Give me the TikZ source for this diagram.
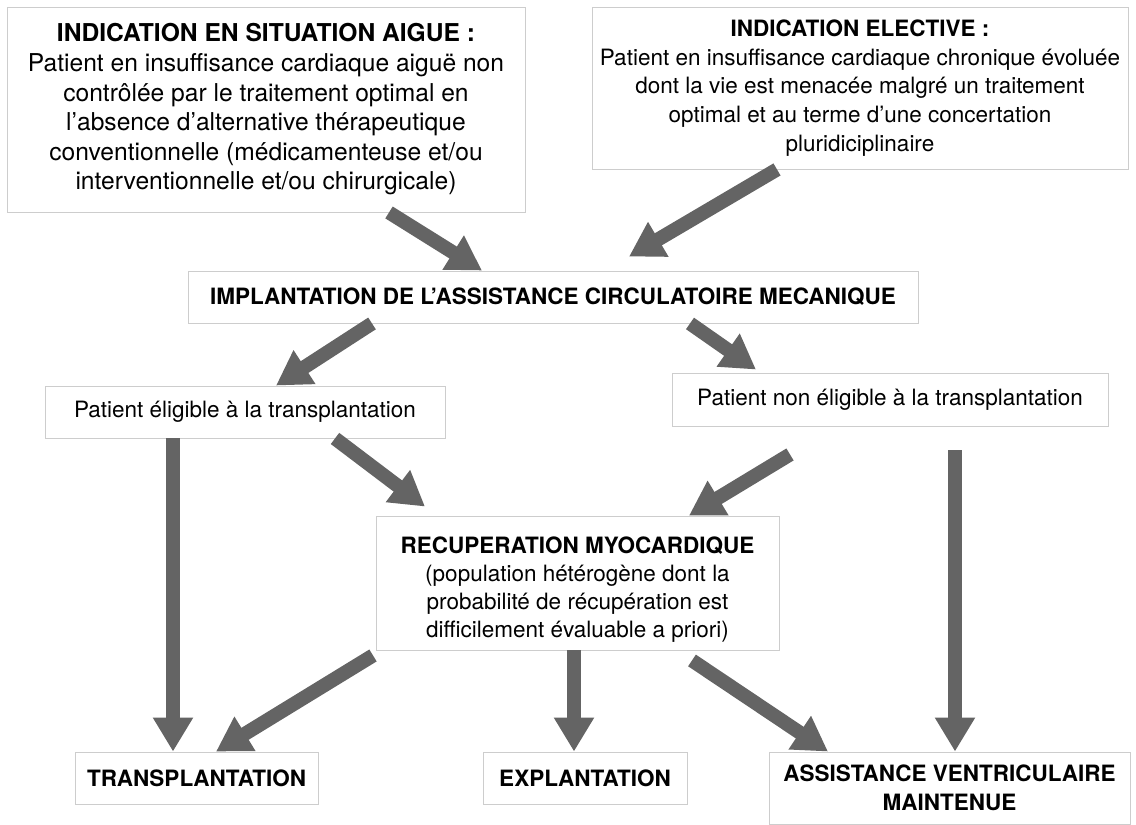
\documentclass[tikz,border=0pt]{standalone}
\usepackage{fontspec}
\setmainfont{TeX Gyre Heros}
\usetikzlibrary{arrows.meta}
\definecolor{boxgray}{RGB}{205,205,205}
\definecolor{arrowgray}{RGB}{100,100,100}

\begin{document}
\begin{tikzpicture}[x=1pt, y=-1pt,
	box/.style={draw=boxgray, line width=0.9pt, fill=white, align=center, inner sep=0pt,
		font=\fontsize{22.5}{28.8}\selectfont},
	bigbox/.style={box, font=\fontsize{24.6}{29.6}\selectfont},
	bigarrow/.style={draw=arrowgray, line width=14pt, -{Triangle[width=38pt,length=34pt]}}]
	
	\useasboundingbox (0,0) rectangle (1136,825);
	
	\node[bigbox, minimum width=518pt, minimum height=205pt] (acute) at (266,109.5)
		{\textbf{INDICATION EN SITUATION AIGUE :}\\
		Patient en insuffisance cardiaque aiguë non\\
		contrôlée par le traitement optimal en\\
		l’absence d’alternative thérapeutique\\
		conventionnelle (médicamenteuse et/ou\\
		interventionnelle et/ou chirurgicale)};
	\node[box, minimum width=536pt, minimum height=162pt] (elective) at (860,88)
		{\textbf{INDICATION ELECTIVE :}\\
		Patient en insuffisance cardiaque chronique évoluée\\
		dont la vie est menacée malgré un traitement\\
		optimal et au terme d’une concertation\\
		pluridiciplinaire};
	\node[box, minimum width=730pt, minimum height=52pt] (impl) at (553,297)
		{\textbf{IMPLANTATION DE L’ASSISTANCE CIRCULATOIRE MECANIQUE}};
	\node[box, minimum width=400pt, minimum height=52pt] (elig) at (245,412)
		{Patient éligible à la transplantation};
	\node[box, minimum width=436pt, minimum height=53pt] (nonelig) at (890,399.5)
		{Patient non éligible à la transplantation};
	\node[box, minimum width=403pt, minimum height=134pt, font=\fontsize{22.5}{28}\selectfont] (recup) at (577.5,583)
		{\rule{0pt}{30pt}\textbf{RECUPERATION MYOCARDIQUE}\\
		(population hétérogène dont la\\
		probabilité de récupération est\\
		difficilement évaluable a priori)};
	\node[box, minimum width=243pt, minimum height=52pt] (trans) at (196.5,778)
		{\textbf{TRANSPLANTATION}};
	\node[box, minimum width=204pt, minimum height=52pt] (expl) at (585,778)
		{\textbf{EXPLANTATION}};
	\node[box, minimum width=361pt, minimum height=72pt] (assist) at (949.5,788)
		{\textbf{ASSISTANCE VENTRICULAIRE}\\ \textbf{MAINTENUE}};
	
	% indications -> implantation
	\draw[bigarrow] ([xshift=123pt]acute.south) -- ([xshift=-71pt]impl.north);
	\draw[bigarrow] ([xshift=-83pt]elective.south) -- ([xshift=76pt,yshift=14pt]impl.north);
	
	% implantation -> eligibility
	\draw[bigarrow] ([xshift=-181pt]impl.south) -- ([xshift=31pt]elig.north);
	\draw[bigarrow] ([xshift=137pt]impl.south) -- ([xshift=-134pt,yshift=3pt]nonelig.north);
	
	% eligibility -> outcomes
	\draw[bigarrow] ([xshift=-72pt]elig.south) -- ([xshift=-23.5pt]trans.north);
	\draw[bigarrow] ([xshift=90pt]elig.south) -- ([xshift=-152.5pt,yshift=9pt]recup.north);
	\draw[bigarrow] ([xshift=-100pt,yshift=-28pt]nonelig.south) -- ([xshift=111.5pt]recup.north);
	\draw[bigarrow] ([xshift=65pt,yshift=-24pt]nonelig.south) -- ([xshift=5.5pt]assist.north);
	
	% recuperation -> outcomes
	\draw[bigarrow] ([xshift=-204.5pt,yshift=-5pt]recup.south) -- ([xshift=19.5pt]trans.north);
	\draw[bigarrow] ([xshift=-3.5pt]recup.south) -- ([xshift=-11pt]expl.north);
	\draw[bigarrow] ([xshift=114.5pt,yshift=-10pt]recup.south) -- ([xshift=-121.5pt]assist.north);
	
\end{tikzpicture}
\end{document}
